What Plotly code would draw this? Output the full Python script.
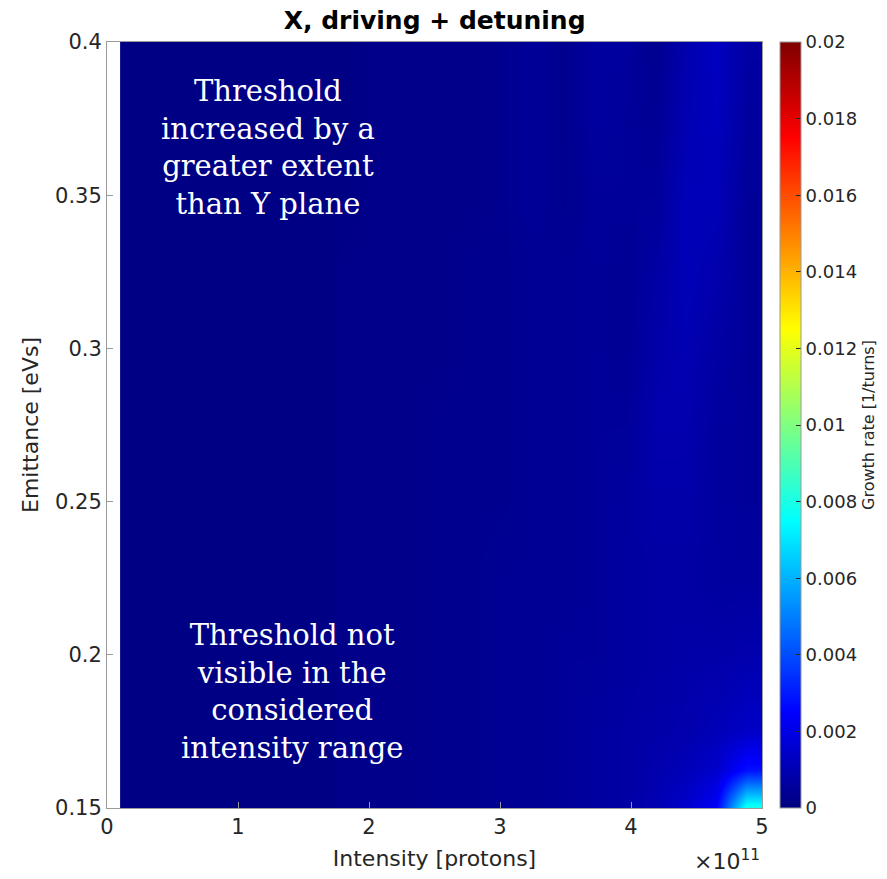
import numpy as np
import plotly.graph_objects as go

# Intensity cell edges (x 1e11 protons) and emittance grid (eVs)
intensity_edges = np.linspace(0.1, 5.0, 22)
emittance = [0.15, 0.1625, 0.175, 0.2, 0.225, 0.25, 0.275, 0.3, 0.325, 0.35, 0.375, 0.4]

# Growth rate in units of 1e-4 [1/turns]; rows follow emittance (bottom -> top)
growth_rate_e4 = [
    [1, 1, 1, 1, 1, 1, 1, 2, 2, 2, 3, 3, 4, 4, 5, 6, 7, 10, 15, 24, 80],
    [1, 1, 1, 1, 1, 1, 1, 2, 2, 2, 3, 3, 4, 4, 5, 6, 7, 9, 11, 15, 28],
    [1, 1, 1, 1, 1, 1, 1, 2, 2, 2, 3, 3, 4, 4, 5, 6, 7, 8, 9, 11, 14],
    [1, 1, 1, 1, 1, 1, 1, 2, 2, 2, 3, 3, 4, 4, 5, 5, 6, 7, 8, 8, 9],
    [1, 1, 1, 1, 1, 1, 1, 2, 2, 2, 3, 3, 4, 4, 4, 5, 6, 7, 7, 6, 6],
    [1, 1, 1, 1, 1, 1, 1, 2, 2, 2, 3, 3, 3, 4, 4, 5, 6, 8, 8, 6, 5],
    [1, 1, 1, 1, 1, 1, 1, 2, 2, 2, 3, 3, 3, 4, 4, 5, 5, 9, 9, 6, 5],
    [1, 1, 1, 1, 1, 1, 1, 2, 2, 2, 2, 3, 3, 4, 4, 5, 4, 8, 10, 7, 5],
    [1, 1, 1, 1, 1, 1, 1, 2, 2, 2, 2, 3, 3, 4, 4, 5, 4, 7, 11, 9, 5],
    [1, 1, 1, 1, 1, 1, 1, 1, 2, 2, 2, 2, 3, 5, 3, 5, 5, 5, 11, 11, 5],
    [1, 1, 1, 1, 1, 1, 1, 1, 2, 2, 2, 2, 3, 5, 3, 6, 5, 4, 10, 12, 6],
    [1, 1, 1, 1, 1, 1, 1, 1, 2, 2, 2, 2, 3, 5, 3, 6, 6, 3, 9, 13, 7],
]

x_ticks = [0, 1, 2, 3, 4, 5]
y_ticks = [0.15, 0.2, 0.25, 0.3, 0.35, 0.4]
y_ticktext = ["0.15", "0.2", "0.25", "0.3", "0.35", "0.4"]
cb_ticks = [0, 0.002, 0.004, 0.006, 0.008, 0.01, 0.012, 0.014, 0.016, 0.018, 0.02]
cb_ticktext = ["0", "0.002", "0.004", "0.006", "0.008", "0.01", "0.012", "0.014", "0.016", "0.018", "0.02"]

z = np.array(growth_rate_e4, dtype=float) * 1e-4

jet = [
    [0.0, "rgb(0,0,128)"],
    [0.125, "rgb(0,0,255)"],
    [0.375, "rgb(0,255,255)"],
    [0.625, "rgb(255,255,0)"],
    [0.875, "rgb(255,0,0)"],
    [1.0, "rgb(128,0,0)"],
]

AX = "#262626"
LINE = "#9a9a9a"
SANS = "DejaVu Sans"

fig = go.Figure(go.Heatmap(
    x=intensity_edges, y=emittance, z=z,
    zmin=0, zmax=0.02, zsmooth="best", colorscale=jet,
    colorbar=dict(
        x=1.0275, xanchor="left", xref="paper", y=0.5, yanchor="middle",
        len=1, lenmode="fraction", thickness=21, thicknessmode="pixels",
        xpad=0, ypad=0,
        outlinewidth=1, outlinecolor=LINE,
        ticks="inside", ticklen=5, tickcolor=AX,
        tickvals=cb_ticks, ticktext=cb_ticktext,
        tickfont=dict(family=SANS, size=18, color=AX),
        title=dict(text="Growth rate [1/turns]", side="right",
                   font=dict(family=SANS, size=16, color=AX)),
    ),
))

fig.update_layout(
    width=887, height=879,
    margin=dict(l=107, r=125, t=42, b=71, autoexpand=False),
    paper_bgcolor="white", plot_bgcolor="white",
    title=dict(text="<b>X, driving + detuning</b>", x=0.49, xanchor="center",
               y=0.977, yanchor="middle",
               font=dict(family=SANS, size=25, color="black")),
    xaxis=dict(range=[0, 5], tickvals=x_ticks, ticks="inside", ticklen=6,
               tickcolor=LINE, showline=True, linecolor=LINE, mirror=True,
               showgrid=False, zeroline=False,
               tickfont=dict(family=SANS, size=21, color=AX),
               title=dict(text="Intensity [protons]", standoff=12,
                          font=dict(family=SANS, size=22, color=AX))),
    yaxis=dict(range=[0.15, 0.4], tickvals=y_ticks, ticktext=y_ticktext,
               ticks="inside", ticklen=6, tickcolor=LINE, showline=True,
               linecolor=LINE, mirror=True, showgrid=False, zeroline=False,
               tickfont=dict(family=SANS, size=21, color=AX),
               title=dict(text="Emittance [eVs]", standoff=10,
                          font=dict(family=SANS, size=22, color=AX))),
    annotations=[
        dict(text="×10<sup>11</sup>", xref="paper", yref="paper", x=1.0, y=-0.068,
             xanchor="right", yanchor="middle", showarrow=False,
             font=dict(family=SANS, size=22, color=AX)),
        dict(text="Threshold<br>increased by a<br>greater extent<br>than Y plane",
             xref="x", yref="y", x=1.23, y=0.3656, showarrow=False,
             xanchor="center", yanchor="middle", align="center",
             font=dict(family="DejaVu Serif", size=29, color="white")),
        dict(text="Threshold not<br>visible in the<br>considered<br>intensity range",
             xref="x", yref="y", x=1.41, y=0.188, showarrow=False,
             xanchor="center", yanchor="middle", align="center",
             font=dict(family="DejaVu Serif", size=29, color="white")),
    ],
)

fig.write_html("out.html")
